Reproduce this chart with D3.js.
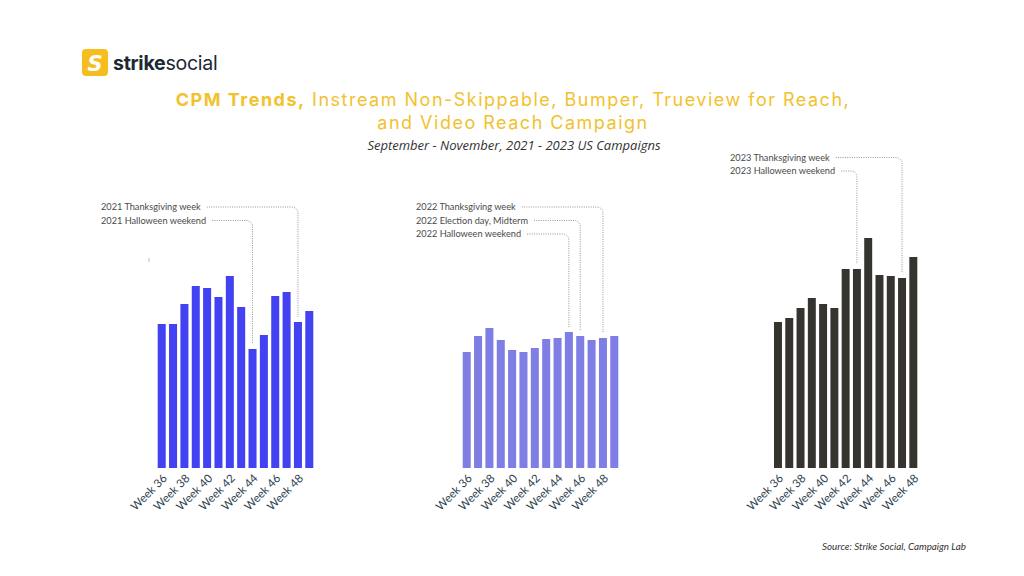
<!DOCTYPE html>
<html>
<head>
<meta charset="utf-8">
<script src="https://cdn.jsdelivr.net/npm/d3@7"></script>
<style>
  html, body { margin: 0; padding: 0; background: #ffffff; }
  svg { display: block; }
</style>
</head>
<body>
<svg id="chart" width="1024" height="576"></svg>
<script>
// ---------------- DATA ----------------
const weeks14 = ["Week 36","Week 37","Week 38","Week 39","Week 40","Week 41","Week 42","Week 43","Week 44","Week 45","Week 46","Week 47","Week 48","Week 49"];
const weeks13 = weeks14.slice(0, 13);
const tickLabels = ["Week 36","Week 38","Week 40","Week 42","Week 44","Week 46","Week 48"];

// Estimated relative CPM values (no axis printed in the original)
const cpm2021 = [14.4, 14.4, 16.4, 18.2, 18.0, 17.1, 19.2, 16.1, 11.9, 13.3, 17.2, 17.6, 14.6, 15.7];
const cpm2022 = [11.6, 13.2, 14.0, 12.8, 11.8, 11.6, 12.0, 12.9, 13.0, 13.6, 13.2, 12.8, 13.0, 13.2];
const cpm2023 = [14.6, 15.0, 16.0, 17.0, 16.4, 16.0, 19.9, 19.9, 23.0, 19.3, 19.2, 19.0, 21.1];

const notes2021 = [
  { label: "2021 Thanksgiving week", week: "Week 48" },
  { label: "2021 Halloween weekend", week: "Week 44" }
];
const notes2022 = [
  { label: "2022 Thanksgiving week", week: "Week 48" },
  { label: "2022 Election day, Midterm", week: "Week 46" },
  { label: "2022 Halloween weekend", week: "Week 45" }
];
const notes2023 = [
  { label: "2023 Thanksgiving week", week: "Week 47" },
  { label: "2023 Halloween weekend", week: "Week 43" }
];

const titleBold = "CPM Trends,";
const titleRest = " Instream Non-Skippable, Bumper, Trueview for Reach,";
const titleLine2 = "and Video Reach Campaign";
const subtitle = "September - November, 2021 - 2023 US Campaigns";
const source = "Source: Strike Social, Campaign Lab";

// ---------------- LAYOUT ----------------
const svg = d3.select("#chart");
const baseY = 468;
const y = d3.scaleLinear().domain([0, 25]).range([baseY, 218]);

const panels = [
  { weeks: weeks14, values: cpm2021, notes: notes2021, x0: 157.7, x1: 313.3, color: "#4242F2", noteX: 101, noteY: 207 },
  { weeks: weeks14, values: cpm2022, notes: notes2022, x0: 462.7, x1: 618.3, color: "#7E7EE4", noteX: 416, noteY: 207 },
  { weeks: weeks13, values: cpm2023, notes: notes2023, x0: 774.0, x1: 917.3, color: "#36342F", noteX: 730, noteY: 157.5 }
];

// ---------------- LOGO ----------------
const logo = svg.append("g");
logo.append("rect").attr("x", 82).attr("y", 49).attr("width", 26).attr("height", 27).attr("rx", 4).attr("fill", "#F5BE1E");
logo.append("text").attr("x", 95).attr("y", 70.5).attr("text-anchor", "middle")
  .attr("font-family", "DejaVu Sans").attr("font-weight", "bold").attr("font-style", "italic")
  .attr("font-size", 21).attr("fill", "#ffffff").text("S");
const logoText = logo.append("text").attr("x", 113).attr("y", 70)
  .attr("font-family", "Inter, 'Noto Sans', sans-serif").attr("font-size", 19.6).attr("fill", "#1C2833")
  .attr("letter-spacing", "-0.3");
logoText.append("tspan").attr("font-weight", "700").text("strike");
logoText.append("tspan").attr("font-weight", "400").text("social");

// ---------------- TITLE ----------------
const titleColor = "#F2C12E";
const t1 = svg.append("text").attr("x", 513).attr("y", 106).attr("text-anchor", "middle")
  .attr("font-family", "Inter, sans-serif").attr("font-size", 18).attr("letter-spacing", "1.5").attr("fill", titleColor);
t1.append("tspan").attr("font-weight", "700").text(titleBold);
t1.append("tspan").attr("font-weight", "400").text(titleRest);
svg.append("text").attr("x", 513).attr("y", 128.5).attr("text-anchor", "middle")
  .attr("font-family", "Inter, sans-serif").attr("font-size", 18).attr("letter-spacing", "1.5").attr("fill", titleColor).text(titleLine2);
svg.append("text").attr("x", 514).attr("y", 150).attr("text-anchor", "middle")
  .attr("font-family", "'Open Sans', sans-serif").attr("font-style", "italic").attr("font-size", 13)
  .attr("fill", "#333333").text(subtitle);

// small stray mark in the original
svg.append("line").attr("x1", 149).attr("x2", 149).attr("y1", 258).attr("y2", 262)
  .attr("stroke", "#bbbbbb").attr("stroke-width", 1);

// ---------------- PANELS ----------------
panels.forEach(p => {
  const x = d3.scaleBand().domain(p.weeks).range([p.x0, p.x1]).paddingInner(0.294).paddingOuter(0);
  const g = svg.append("g");

  g.selectAll("rect.bar").data(p.values).join("rect")
    .attr("class", "bar")
    .attr("x", (d, i) => x(p.weeks[i]))
    .attr("y", d => y(d))
    .attr("width", x.bandwidth())
    .attr("height", d => baseY - y(d))
    .attr("fill", p.color);

  // axis labels (every other week)
  const axis = d3.axisBottom(x).tickValues(tickLabels.filter(t => p.weeks.includes(t))).tickSize(0).tickPadding(0);
  const ag = g.append("g").attr("transform", `translate(0,${baseY})`).call(axis);
  ag.select(".domain").remove();
  ag.selectAll("text")
    .attr("font-family", "Lato, 'Open Sans', sans-serif")
    .attr("font-size", 11.5)
    .attr("fill", "#2E3F50")
    .attr("text-anchor", "end")
    .attr("dy", null)
    .attr("y", 0)
    .attr("transform", "translate(6,11) rotate(-45)");

  // annotations
  p.notes.forEach((n, k) => {
    const ty = p.noteY + k * 13.5;
    const txt = g.append("text").attr("x", p.noteX).attr("y", ty + 3)
      .attr("font-family", "Lato, sans-serif").attr("font-size", 9.2).attr("fill", "#4a4a4a").text(n.label);
    const tEnd = p.noteX + txt.node().getComputedTextLength() + 6;
    const cx = x(n.week) + x.bandwidth() / 2;
    const idx = p.weeks.indexOf(n.week);
    const yEnd = y(p.values[idx]) - 5;
    const r = 6;
    const path = d3.path();
    path.moveTo(tEnd, ty);
    path.lineTo(cx - r, ty);
    path.arcTo(cx, ty, cx, ty + r, r);
    path.lineTo(cx, yEnd);
    g.append("path").attr("d", path.toString()).attr("fill", "none")
      .attr("stroke", "#8a8a8a").attr("stroke-width", 0.9).attr("stroke-dasharray", "1,1.3");
  });
});

// ---------------- SOURCE ----------------
svg.append("text").attr("x", 966).attr("y", 550).attr("text-anchor", "end")
  .attr("font-family", "Lato, sans-serif").attr("font-style", "italic").attr("font-size", 9.8)
  .attr("fill", "#333333").text(source);
</script>
</body>
</html>
